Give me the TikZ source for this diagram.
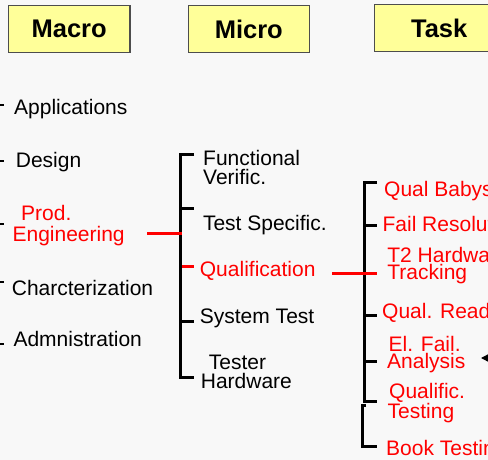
\documentclass[tikz,border=0pt]{standalone}
\usepackage{fontspec}
\setmainfont{Liberation Sans}
\usetikzlibrary{arrows.meta}
\definecolor{bg}{HTML}{F8F8F8}
\definecolor{hdrfill}{HTML}{FFFF99}
\definecolor{hdrline}{HTML}{4D4D4D}
\definecolor{hot}{HTML}{FF0000}

\begin{document}
\begin{tikzpicture}[x=1pt,y=-1pt,
  header/.style={draw=hdrline, line width=1.2pt, fill=hdrfill,
    minimum height=46.6pt, inner sep=0pt,
    font=\fontsize{25.5}{30}\selectfont\bfseries},
  item/.style={anchor=base west, inner sep=0pt, align=left,
    font=\fontsize{21}{20}\selectfont},
  task/.style={item, text=hot},
  bracket/.style={line width=3pt, black, line join=miter, line cap=butt},
  link/.style={line width=3pt, hot, line cap=butt}]

% canvas
\fill[bg] (0,0) rectangle (488,460);
\useasboundingbox (0,0) rectangle (488,460);
\clip (0,0) rectangle (488,460);

% column headers
\node[header, minimum width=121.7pt] (hmacro) at (69.2,29) {Macro};
\node[header, minimum width=121pt]   (hmicro) at (248.8,29) {Micro};
\node[header, minimum width=129pt]   (htask)  at (439.2,28) {Task};

% macro level (multi-line labels are placed by their last baseline)
\foreach \y in {105,161,224,282,344}
  \draw[bracket, line width=2.6pt] (-5,\y) -- (4,\y);
\node[item] (app)    at (14,115)    {Applications};
\node[item] (design) at (15.7,167.3) {Design};
\node[item, text=hot, font=\fontsize{21}{21.7}\selectfont] (prod) at (12.4,241.7)
  {\hspace*{8.6pt}Prod.\\Engineering};
\node[item] (charz)  at (11.7,295)  {Charcterization};
\node[item] (admin)  at (13.3,346.7) {Admnistration};

% micro level
\draw[bracket] (194,155) -- (180,155) -- (180,377) -- (194,377);
\draw[bracket] (180,208) -- (194,208);
\draw[bracket] (180,321) -- (194,321);
\draw[link] (181.5,266) -- (194,266);
\coordinate (prodout) at (147,233);
\coordinate (microin) at (181.5,233);
\draw[link] (prodout) -- (microin);

\node[item] (func)    at (203,185)    {Functional\\Verific.};
\node[item] (testspec) at (202.8,230.7) {Test Specific.};
\node[item, text=hot] (qual) at (199.7,276.7) {Qualification};
\node[item] (systest) at (199.7,323.3) {System Test};
\node[item, font=\fontsize{21}{19.3}\selectfont] (tester) at (200.7,388.3)
  {\hspace*{8pt}Tester\\Hardware};

% task level
\draw[bracket] (377,182) -- (364,182) -- (364,401) -- (377,401);
\foreach \y in {225,315,361.5}
  \draw[bracket] (364,\y) -- (377,\y);
\draw[bracket] (366,405) -- (362,405) -- (362,446) -- (377,446);
\coordinate (qualout) at (332,273);
\coordinate (taskin)  at (377,273);
\draw[link] (qualout) -- (taskin);

\node[task] (babysit) at (384,196.7) {Qual Babysitting};
\node[task] (failres) at (382.4,231.7) {Fail Resolution};
\node[task, font=\fontsize{21}{13.6}\selectfont] (t2hw) at (387.2,279.3)
  {T2 Hardware\\Tracking};
\node[task] (ready)   at (382,318)   {Qual. Readiness};
\node[task, font=\fontsize{21}{15}\selectfont] (elfa) at (387,368.3)
  {\hspace*{1.5pt}El. Fail.\\Analysis};
\node[task, font=\fontsize{21}{14}\selectfont] (qtest) at (387.5,418.3)
  {\hspace*{1.5pt}Qualific.\\Testing};
\node[task] (book)    at (386,455)   {Book Testing};

% incoming pointer at the right edge
\coordinate (ptrstart) at (500,358);
\coordinate (ptrtip)   at (481,358);
\draw[line width=1.5pt, -{Triangle[length=8pt,width=8pt]}] (ptrstart) -- (ptrtip);
\end{tikzpicture}
\end{document}
